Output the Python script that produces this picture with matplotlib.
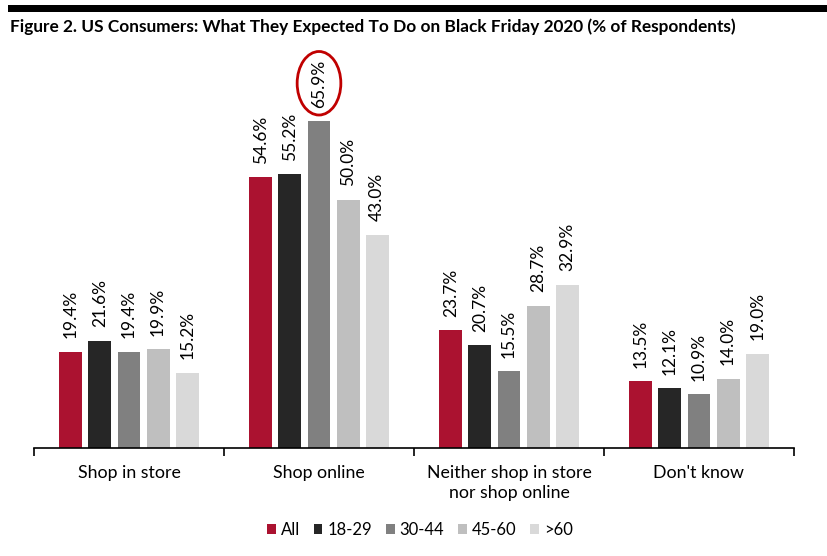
import matplotlib
matplotlib.use("Agg")
import matplotlib.pyplot as plt
from matplotlib.patches import Ellipse, Rectangle
import numpy as np

categories = ["Shop in store", "Shop online", "Neither shop in store\nnor shop online", "Don't know"]
series_names = ["All", "18-29", "30-44", "45-60", ">60"]
all_vals = [19.4, 54.6, 23.7, 13.5]
v18_29 = [21.6, 55.2, 20.7, 12.1]
v30_44 = [19.4, 65.9, 15.5, 10.9]
v45_60 = [19.9, 50.0, 28.7, 14.0]
v60p = [15.2, 43.0, 32.9, 19.0]
series = [all_vals, v18_29, v30_44, v45_60, v60p]
colors = ["#AB1230", "#262626", "#808080", "#BFBFBF", "#D9D9D9"]

plt.rcParams['font.family'] = ['Lato', 'DejaVu Sans']

fig = plt.figure(figsize=(8.28, 5.56), dpi=100)
# top black band
fig.add_artist(Rectangle((8/828, 1-12/556), 1, 7/556, transform=fig.transFigure,
                         color="black", lw=0))
fig.text(10/828, 1-27/556, "Figure 2. US Consumers: What They Expected To Do on Black Friday 2020 (% of Respondents)",
         fontsize=12.4, fontweight="bold", va="center", ha="left")

ax = fig.add_axes([34/828, 1-448/556, 760/828, 397/556])
x = np.arange(len(categories))
step = 0.153
width = 0.121
for i, (vals, name, c) in enumerate(zip(series, series_names, colors)):
    pos = x + (i - 2) * step
    bars = ax.bar(pos, vals, width=width, color=c, label=name)
    for p, v in zip(pos, vals):
        ax.text(p, v + 2.7, f"{v:.1f}%", rotation=90, ha="center", va="bottom", fontsize=12.5)

ax.set_xlim(-0.5, 3.5)
ax.set_ylim(0, 80)
for s in ["top", "right", "left"]:
    ax.spines[s].set_visible(False)
ax.spines["bottom"].set_color("black")
ax.spines["bottom"].set_linewidth(1.2)
ax.set_yticks([])
ax.set_xticks([-0.5, 0.5, 1.5, 2.5, 3.5])
ax.set_xticklabels([])
ax.tick_params(axis="x", which="major", length=6, width=1.2, direction="out")
ax.set_xticks(x, minor=True)
ax.set_xticklabels(categories, minor=True, fontsize=12.8, linespacing=1.35)
ax.tick_params(axis="x", which="minor", length=0, pad=12)

# highlight ellipse
ell = Ellipse((1, 73.5), 0.23, 12.8, fill=False, edgecolor="#C00000", lw=2, clip_on=False)
ax.add_patch(ell)

leg = fig.legend(loc="center", bbox_to_anchor=(420/828, 1-530/556), ncol=5, frameon=False,
                 fontsize=12, handlelength=0.5, handleheight=0.5, handletextpad=0.3,
                 columnspacing=0.85)

fig.savefig("out.png", dpi=100)
